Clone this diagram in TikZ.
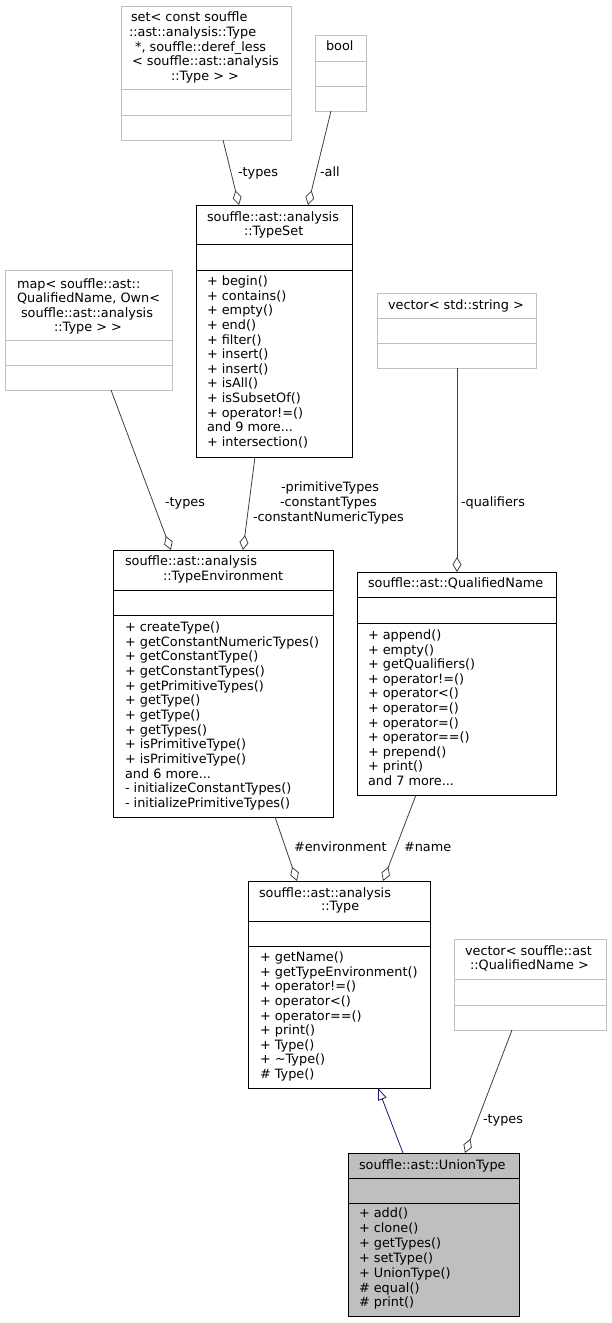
\documentclass[tikz,border=0pt]{standalone}
\usepackage{fontspec}
\setmainfont{DejaVu Sans}
\usetikzlibrary{arrows.meta}
\definecolor{extgray}{HTML}{BFBFBF}
\definecolor{edgegray}{HTML}{404040}
\definecolor{inhblue}{HTML}{191970}
\newcommand{\threedots}{...}
\begin{document}
\begin{tikzpicture}[x=1pt,y=-1pt,
  txt/.style={inner sep=0pt, outer sep=0pt, anchor=base west, font=\fontsize{12.85pt}{14.6pt}\selectfont},
  classbox/.style={draw=black, line width=0.9pt, fill=white, inner sep=0pt, outer sep=0pt, anchor=north west, rectangle},
  extbox/.style={draw=extgray, line width=0.9pt, fill=white, inner sep=0pt, outer sep=0pt, anchor=north west, rectangle},
  curbox/.style={draw=black, line width=0.9pt, fill=extgray, inner sep=0pt, outer sep=0pt, anchor=north west, rectangle},
  usage/.style={draw=edgegray, line width=0.8pt, -{Diamond[open, length=15pt, width=9pt, line width=0.8pt]}},
  inherit/.style={draw=inhblue, line width=0.8pt, -{Triangle[open, length=12pt, width=9pt, line width=0.8pt]}}
]
\useasboundingbox (0,0) rectangle (611,1323);
\fill[white] (0,0) rectangle (611,1323);

% ---------- boxes ----------
\node[extbox, minimum width=170pt, minimum height=134pt] (set) at (121,6) {};
\draw[extgray, line width=0.9pt] ([yshift=-83pt]set.north west) -- ([yshift=-83pt]set.north east);
\draw[extgray, line width=0.9pt] ([yshift=-109pt]set.north west) -- ([yshift=-109pt]set.north east);

\node[extbox, minimum width=51pt, minimum height=76pt] (bool) at (315,35) {};
\draw[extgray, line width=0.9pt] ([yshift=-26pt]bool.north west) -- ([yshift=-26pt]bool.north east);
\draw[extgray, line width=0.9pt] ([yshift=-51pt]bool.north west) -- ([yshift=-51pt]bool.north east);

\node[classbox, minimum width=156pt, minimum height=252pt] (typeset) at (196,205) {};
\draw[black, line width=0.9pt] ([yshift=-39pt]typeset.north west) -- ([yshift=-39pt]typeset.north east);
\draw[black, line width=0.9pt] ([yshift=-65pt]typeset.north west) -- ([yshift=-65pt]typeset.north east);

\node[extbox, minimum width=167pt, minimum height=120pt] (map) at (5,270) {};
\draw[extgray, line width=0.9pt] ([yshift=-70pt]map.north west) -- ([yshift=-70pt]map.north east);
\draw[extgray, line width=0.9pt] ([yshift=-95pt]map.north west) -- ([yshift=-95pt]map.north east);

\node[extbox, minimum width=159pt, minimum height=75pt] (vecstr) at (377,293) {};
\draw[extgray, line width=0.9pt] ([yshift=-25pt]vecstr.north west) -- ([yshift=-25pt]vecstr.north east);
\draw[extgray, line width=0.9pt] ([yshift=-50pt]vecstr.north west) -- ([yshift=-50pt]vecstr.north east);

\node[classbox, minimum width=220pt, minimum height=267pt] (typeenv) at (113,550) {};
\draw[black, line width=0.9pt] ([yshift=-40pt]typeenv.north west) -- ([yshift=-40pt]typeenv.north east);
\draw[black, line width=0.9pt] ([yshift=-65pt]typeenv.north west) -- ([yshift=-65pt]typeenv.north east);

\node[classbox, minimum width=199pt, minimum height=223pt] (qname) at (357,572) {};
\draw[black, line width=0.9pt] ([yshift=-25pt]qname.north west) -- ([yshift=-25pt]qname.north east);
\draw[black, line width=0.9pt] ([yshift=-51pt]qname.north west) -- ([yshift=-51pt]qname.north east);

\node[classbox, minimum width=182pt, minimum height=207pt] (type) at (248,881) {};
\draw[black, line width=0.9pt] ([yshift=-40pt]type.north west) -- ([yshift=-40pt]type.north east);
\draw[black, line width=0.9pt] ([yshift=-65pt]type.north west) -- ([yshift=-65pt]type.north east);

\node[extbox, minimum width=152pt, minimum height=91pt] (vecqn) at (454,939) {};
\draw[extgray, line width=0.9pt] ([yshift=-40pt]vecqn.north west) -- ([yshift=-40pt]vecqn.north east);
\draw[extgray, line width=0.9pt] ([yshift=-66pt]vecqn.north west) -- ([yshift=-66pt]vecqn.north east);

\node[curbox, minimum width=171pt, minimum height=163pt] (union) at (348,1153) {};
\draw[black, line width=0.9pt] ([yshift=-25pt]union.north west) -- ([yshift=-25pt]union.north east);
\draw[black, line width=0.9pt] ([yshift=-50pt]union.north west) -- ([yshift=-50pt]union.north east);

% ---------- texts ----------
\node[txt] (setn1) at (131,21.5) {set< const souffle};
\node[txt] (setn2) at (129,36.5) {::ast::analysis::Type};
\node[txt] (setn3) at (131,51) {\ *, souffle::deref\_less};
\node[txt] (setn4) at (132,65.5) {< souffle::ast::analysis};
\node[txt] (setn5) at (171,80.5) {::Type > >};

\node[txt] (booln) at (326,50.5) {bool};

\node[txt] (tsn1) at (207,221.5) {souffle::ast::analysis};
\node[txt] (tsn2) at (244,235.5) {::TypeSet};
\foreach \t [count=\i from 0] in {+ begin(), + contains(), + empty(), + end(), + filter(), + insert(), + insert(), + isAll(), + isSubsetOf(), + operator!=(), and 9 more\threedots, + intersection()}
  \node[txt] (tsm\i) at (207,{285.5+\i*14.63}) {\t};

\node[txt] (mapn1) at (17,288.5) {map< souffle::ast::};
\node[txt] (mapn2) at (17,302.5) {QualifiedName, Own<};
\node[txt] (mapn3) at (21,317.5) {souffle::ast::analysis};
\node[txt] (mapn4) at (54,331.5) {::Type > >};

\node[txt] (vsn) at (388,309.5) {vector< std::string >};

\node[txt] (ten1) at (125,565.5) {souffle::ast::analysis};
\node[txt] (ten2) at (163,580.5) {::TypeEnvironment};
\foreach \t [count=\i from 0] in {+ createType(), + getConstantNumericTypes(), + getConstantType(), + getConstantTypes(), + getPrimitiveTypes(), + getType(), + getType(), + getTypes(), + isPrimitiveType(), + isPrimitiveType(), and 6 more\threedots, - initializeConstantTypes(), - initializePrimitiveTypes()}
  \node[txt] (tem\i) at (125,{631.5+\i*14.67}) {\t};

\node[txt] (qnn) at (368,587.5) {souffle::ast::QualifiedName};
\foreach \t [count=\i from 0] in {+ append(), + empty(), + getQualifiers(), + operator!=(), + operator<(), + operator=(), + operator=(), + operator==(), + prepend(), + print(), and 7 more\threedots}
  \node[txt] (qnm\i) at (368,{639.5+\i*14.6}) {\t};

\node[txt] (tyn1) at (259,897.5) {souffle::ast::analysis};
\node[txt] (tyn2) at (321,910.5) {::Type};
\foreach \t [count=\i from 0] in {+ getName(), + getTypeEnvironment(), + operator!=(), + operator<(), + operator==(), + print(), + Type(), + \textasciitilde Type(), \# Type()}
  \node[txt] (tym\i) at (260,{961.5+\i*14.63}) {\t};

\node[txt] (vqn1) at (465,955.5) {vector< souffle::ast};
\node[txt] (vqn2) at (470,969.5) {::QualifiedName >};

\node[txt] (unn) at (359,1169.5) {souffle::ast::UnionType};
\foreach \t [count=\i from 0] in {+ add(), + clone(), + getTypes(), + setType(), + UnionType(), \# equal(), \# print()}
  \node[txt] (unm\i) at (359,{1217.5+\i*14.9}) {\t};

% ---------- connectors ----------
\draw[usage] ([xshift=102pt]set.south west) -- ([xshift=43pt]typeset.north west);
\draw[usage] ([xshift=16pt]bool.south west) -- ([xshift=112pt]typeset.north west);
\draw[usage] ([xshift=106pt]map.south west) -- ([xshift=58pt]typeenv.north west);
\draw[usage] ([xshift=59pt]typeset.south west) -- ([xshift=130pt]typeenv.north west);
\draw[usage] ([xshift=80pt]vecstr.south west) -- ([xshift=100pt]qname.north west);
\draw[usage] ([xshift=162pt]typeenv.south west) -- ([xshift=49pt]type.north west);
\draw[usage] ([xshift=59pt]qname.south west) -- ([xshift=135pt]type.north west);
\draw[inherit] ([xshift=55pt]union.north west) -- ([xshift=130pt]type.south west);
\draw[usage] ([xshift=58pt]vecqn.south west) -- ([xshift=117pt]union.north west);

% ---------- connector labels ----------
\node[txt] (l1) at (238,176.5) {-types};
\node[txt] (l2) at (320,176.5) {-all};
\node[txt] (l3) at (165,506.5) {-types};
\node[txt] (l4a) at (281,491.5) {-primitiveTypes};
\node[txt] (l4b) at (280,506.5) {-constantTypes};
\node[txt] (l4c) at (253,521.5) {-constantNumericTypes};
\node[txt] (l5) at (461,506.5) {-qualifiers};
\node[txt] (l6) at (294,851.5) {\#environment};
\node[txt] (l7) at (404,851.5) {\#name};
\node[txt] (l8) at (483,1123.5) {-types};
\end{tikzpicture}
\end{document}
